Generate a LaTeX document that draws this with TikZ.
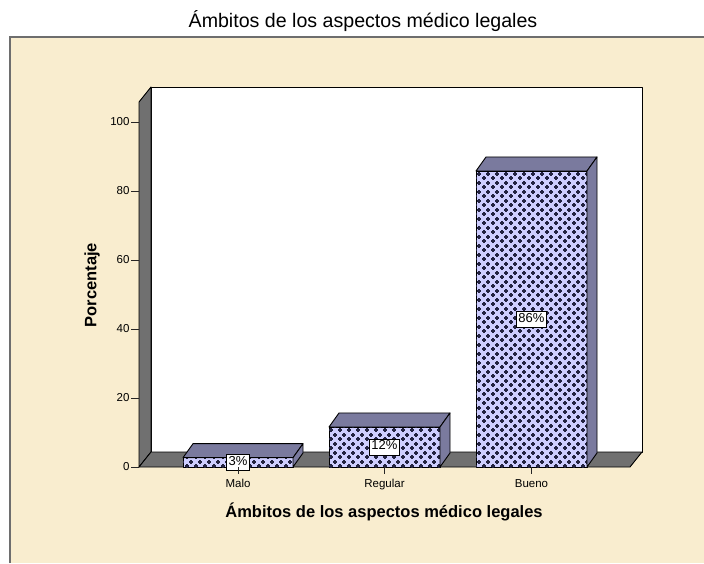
\documentclass[tikz,border=0pt]{standalone}
\usepackage{fontspec}
\setmainfont{Liberation Sans}
\usetikzlibrary{patterns,calc}
\definecolor{beige}{RGB}{249,237,207}
\definecolor{lav}{RGB}{206,206,255}
\definecolor{slate}{RGB}{122,122,158}
\definecolor{wallgray}{RGB}{112,112,112}
\definecolor{crossc}{RGB}{35,35,65}
\definecolor{framegray}{RGB}{110,110,110}
\pgfdeclarepatternformonly{plusgrid}{\pgfpoint{-1pt}{-1pt}}{\pgfpoint{10pt}{10pt}}{\pgfpoint{9pt}{9pt}}{%
  \pgfsetlinewidth{1.6pt}%
  \pgfpathmoveto{\pgfpoint{0.35pt}{2.25pt}}\pgfpathlineto{\pgfpoint{4.15pt}{2.25pt}}%
  \pgfpathmoveto{\pgfpoint{2.25pt}{0.35pt}}\pgfpathlineto{\pgfpoint{2.25pt}{4.15pt}}%
  \pgfpathmoveto{\pgfpoint{4.85pt}{6.75pt}}\pgfpathlineto{\pgfpoint{8.65pt}{6.75pt}}%
  \pgfpathmoveto{\pgfpoint{6.75pt}{4.85pt}}\pgfpathlineto{\pgfpoint{6.75pt}{8.65pt}}%
  \pgfusepath{stroke}}
\tikzset{
  edge/.style={draw=black,line width=0.9pt,line join=round},
  frontface/.style={edge,fill=lav,postaction={pattern=plusgrid,pattern color=crossc}},
  darkface/.style={edge,fill=slate},
  wallface/.style={edge,fill=wallgray},
  ticklab/.style={font=\fontsize{11.5}{13}\selectfont,inner sep=1pt},
  catlab/.style={font=\fontsize{11.5}{13}\selectfont,inner sep=1pt},
  pctlab/.style={draw=black,line width=0.8pt,fill=white,font=\fontsize{13}{15}\selectfont,inner xsep=2pt,inner ysep=0pt,text height=11pt,text depth=5pt},
  axtitle/.style={font=\bfseries\fontsize{16.5}{19}\selectfont,inner sep=0pt},
  tickline/.style={draw=black!85,line width=1pt}
}
\begin{document}
\begin{tikzpicture}[x=1pt,y=-1pt]
\useasboundingbox (0,0) rectangle (704,563);
\fill[white] (0,0) rectangle (704,563);
% chart background
\fill[beige] (10,37) rectangle (704,563);
\draw[framegray,line width=1.6pt] (10,563) -- (10,37) -- (704,37);
% title
\node[font=\fontsize{19.6}{22}\selectfont,inner sep=0pt] (title) at (363,21) {Ámbitos de los aspectos médico legales};
% back wall
\path[edge,fill=white] (151,87) rectangle (642,452);
% left wall
\path[wallface] (139,102) -- (151,87) -- (151,452) -- (139,467) -- cycle;
% floor
\path[wallface] (139,467) -- (151,452) -- (642,452) -- (630,467) -- cycle;
% y ticks
\foreach \v in {0,20,40,60,80,100}{
  \coordinate (yt\v) at (139,{467-3.45*\v});
  \draw[tickline] (yt\v) -- ++(-8,0) node[ticklab,anchor=east] (yl\v) {\v};
}
% bars: \xl, \xr, value
\foreach \name/\xl/\xr/\val/\lab in {malo/183/293/2.7/3\%,regular/329/440/11.6/12\%,bueno/476/587/85.8/86\%}{
  \pgfmathsetmacro{\yt}{467-3.45*\val}
  \coordinate (\name-bl) at (\xl,467);
  \coordinate (\name-br) at (\xr,467);
  \coordinate (\name-tl) at (\xl,\yt);
  \coordinate (\name-tr) at (\xr,\yt);
  \path[frontface] (\name-bl) -- (\name-tl) -- (\name-tr) -- (\name-br) -- cycle;
  \path[darkface] (\name-tl) -- ++(10,-14) -- ($(\name-tr)+(10,-14)$) -- (\name-tr) -- cycle;
  \path[darkface] (\name-br) -- (\name-tr) -- ++(10,-14) -- ++(0,{3.45*\val}) -- cycle;
  \node[pctlab] (\name-pct) at ($(\name-bl)!0.5!(\name-tr)$) {\lab};
}
% category ticks and labels
\foreach \name/\x/\lab in {malo/238/Malo,regular/384.5/Regular,bueno/531.5/Bueno}{
  \coordinate (ct-\name) at (\x,467);
  \draw[tickline] (ct-\name) -- ++(0,7) node[catlab,anchor=north,yshift=-4pt] (cl-\name) {\lab};
}
% axis titles
\node[axtitle] (xtitle) at (384,512) {Ámbitos de los aspectos médico legales};
\node[axtitle,rotate=90] (ytitle) at (92,285) {Porcentaje};
\end{tikzpicture}
\end{document}
